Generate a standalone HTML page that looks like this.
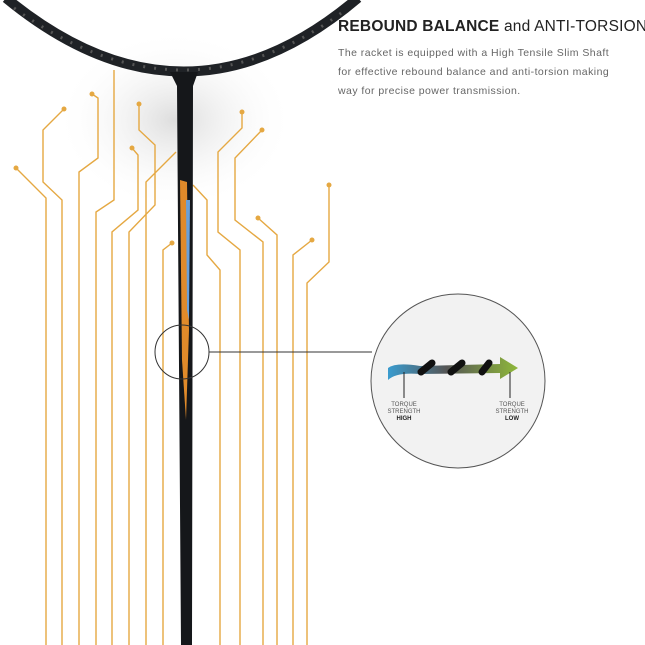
<!DOCTYPE html>
<html><head><style>
body{margin:0;width:645px;height:645px;overflow:hidden;background:#fff;font-family:"Liberation Sans",sans-serif}
.t{position:absolute;left:338px;top:18px;font-size:15.5px;color:#222;white-space:nowrap;letter-spacing:0.2px}
.p{position:absolute;left:338px;top:44px;font-size:10.5px;color:#666;line-height:19px;width:320px;letter-spacing:0.45px;white-space:nowrap}
</style></head><body>
<svg width="645" height="645" style="position:absolute;left:0;top:0">
<defs>
<radialGradient id="sh" cx="0.5" cy="0.5" r="0.5"><stop offset="0" stop-color="#ddd"/><stop offset="1" stop-color="#fff" stop-opacity="0"/></radialGradient>
<linearGradient id="ar" x1="0" x2="1"><stop offset="0" stop-color="#3a9ccf"/><stop offset="0.45" stop-color="#555"/><stop offset="1" stop-color="#8fb83a"/></linearGradient>
</defs>
<ellipse cx="175" cy="120" rx="120" ry="90" fill="url(#sh)"/>
<g fill="none" stroke="#e5a842" stroke-width="1.4">
<path d="M16 168 L46 198 V645"/>
<path d="M64 109 L43 130 V182 L62 200 V645"/>
<path d="M92 94 L98 98 V158 L79 172 V645"/>
<path d="M114 70 V200 L96 212 V645"/>
<path d="M139 104 V130 L155 145 V205 L129 232 V645"/>
<path d="M132 148 L138 155 V210 L112 232 V645"/>
<path d="M176 152 L146 182 V645"/>
<path d="M172 243 L163 250 V645"/>
<path d="M193 185 L207 200 V255 L220 270 V645"/>
<path d="M242 112 V128 L218 152 V232 L240 250 V645"/>
<path d="M262 130 L235 158 V220 L263 242 V645"/>
<path d="M258 218 L277 235 V645"/>
<path d="M312 240 L293 255 V645"/>
<path d="M329 185 V262 L307 283 V645"/>
</g>
<g fill="#e5a842">
<circle cx="16" cy="168" r="2.5"/><circle cx="64" cy="109" r="2.5"/><circle cx="92" cy="94" r="2.5"/>
<circle cx="139" cy="104" r="2.5"/><circle cx="132" cy="148" r="2.5"/><circle cx="172" cy="243" r="2.5"/>
<circle cx="242" cy="112" r="2.5"/><circle cx="262" cy="130" r="2.5"/><circle cx="258" cy="218" r="2.5"/>
<circle cx="312" cy="240" r="2.5"/><circle cx="329" cy="185" r="2.5"/>
</g>
<path d="M6 -2 Q185 145 358 -2" fill="none" stroke="#1f2226" stroke-width="10"/>
<path d="M14 8 Q185 132 348 8" fill="none" stroke="#555" stroke-width="3" stroke-dasharray="2 9"/>
<path d="M170 72 L198 72 L193 86 L192 645 L181 645 L177 86 Z" fill="#15171a"/>
<path d="M180 180 L187 182 L189 330 L186 420 L182 360 Z" fill="#e08a2a"/>
<path d="M186 200 L190 200 L189 320 L187 310 Z" fill="#6aa0d8"/>
<circle cx="182" cy="352" r="27" fill="none" stroke="#333" stroke-width="1"/>
<line x1="209" y1="352" x2="372" y2="352" stroke="#333" stroke-width="1"/>
<circle cx="458" cy="381" r="87" fill="#f2f2f2" stroke="#555" stroke-width="1"/>
<path d="M388 368 Q396 362 420 366 L500 364 L500 357 L518 368 L500 379 L500 373 L420 374 Q396 372 388 380 Z" fill="url(#ar)"/>
<path d="M421 372 L432 363 M451 372 L462 363 M482 372 L489 363" stroke="#111" stroke-width="7" stroke-linecap="round"/>
<line x1="404" y1="372" x2="404" y2="398" stroke="#222"/>
<line x1="510" y1="372" x2="510" y2="398" stroke="#222"/>
<g font-size="6" fill="#555" text-anchor="middle" font-family="Liberation Sans">
<text x="404" y="406">TORQUE</text><text x="404" y="413">STRENGTH</text><text x="404" y="420" font-weight="bold" fill="#222">HIGH</text>
<text x="512" y="406">TORQUE</text><text x="512" y="413">STRENGTH</text><text x="512" y="420" font-weight="bold" fill="#222">LOW</text>
</g>
</svg>
<div class="t"><b>REBOUND BALANCE</b> and ANTI-TORSION</div>
<div class="p">The racket is equipped with a High Tensile Slim Shaft<br>for effective rebound balance and anti-torsion making<br>way for precise power transmission.</div>
</body></html>
